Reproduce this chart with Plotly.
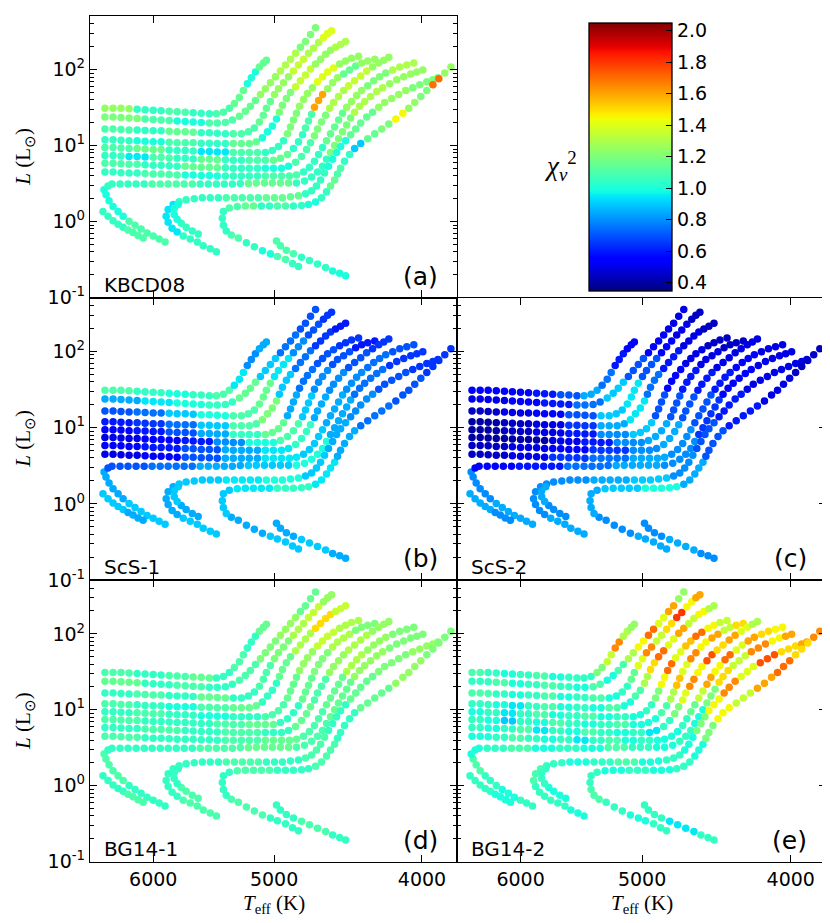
""" Five panels of model tracks in the HR diagram, each coloured by the reduced
    chi^2 of one line list (KBCD08, ScS-1, ScS-2, BG14-1, BG14-2). """
import numpy as np
import plotly.graph_objects as go
from plotly.subplots import make_subplots

# %%
# Track positions: log10(Teff / K) and log10(L / Lsun),
# listed from the start of each track to its tip on the giant branch
t01_logt = [3.8098, 3.8045, 3.7993, 3.7940, 3.7887, 3.7835, 3.7782, 3.7730, 3.7677, 3.7625, 3.7572, 3.7520, 3.7467, 3.7414,
            3.7368, 3.7322, 3.7283, 3.7250, 3.7217, 3.7191, 3.7165, 3.7139, 3.7112, 3.7086, 3.7060, 3.7040]
t01_logl = [1.492, 1.492, 1.492, 1.485, 1.479, 1.472, 1.466, 1.459, 1.453, 1.446, 1.440, 1.433, 1.427, 1.420,
            1.420, 1.440, 1.492, 1.556, 1.634, 1.724, 1.815, 1.893, 1.970, 2.035, 2.087, 2.125]

t02_logt = [3.8098, 3.8045, 3.7993, 3.7940, 3.7887, 3.7835, 3.7782, 3.7730, 3.7677, 3.7625, 3.7572, 3.7520, 3.7467, 3.7414, 3.7362, 3.7309,
            3.7263, 3.7217, 3.7178, 3.7145, 3.7112, 3.7079, 3.7047, 3.7014, 3.6981, 3.6948, 3.6915, 3.6882, 3.6849, 3.6817, 3.6784, 3.6751, 3.6718]
t02_logl = [1.375, 1.375, 1.369, 1.362, 1.356, 1.349, 1.343, 1.336, 1.330, 1.323, 1.317, 1.310, 1.304, 1.297, 1.297, 1.304,
            1.336, 1.388, 1.453, 1.517, 1.595, 1.673, 1.750, 1.828, 1.906, 1.983, 2.061, 2.138, 2.216, 2.294, 2.371, 2.462, 2.552]

t03_logt = [3.8098, 3.8045, 3.7993, 3.7940, 3.7887, 3.7835, 3.7782, 3.7730, 3.7677, 3.7625, 3.7572, 3.7520, 3.7467, 3.7414, 3.7362, 3.7309, 3.7257, 3.7204,
            3.7158, 3.7119, 3.7086, 3.7060, 3.7040, 3.7014, 3.6987, 3.6961, 3.6928, 3.6895, 3.6863, 3.6830, 3.6797, 3.6764, 3.6731, 3.6698, 3.6666, 3.6639, 3.6613]
t03_logl = [1.220, 1.220, 1.213, 1.207, 1.207, 1.200, 1.194, 1.194, 1.188, 1.181, 1.181, 1.175, 1.168, 1.168, 1.162, 1.155, 1.155, 1.155,
            1.181, 1.233, 1.310, 1.401, 1.492, 1.582, 1.673, 1.750, 1.828, 1.906, 1.983, 2.061, 2.138, 2.216, 2.281, 2.358, 2.423, 2.475, 2.514]

t04_logt = [3.8098, 3.8045, 3.7993, 3.7940, 3.7887, 3.7835, 3.7782, 3.7730, 3.7677, 3.7625, 3.7572, 3.7520, 3.7467, 3.7414, 3.7362, 3.7309, 3.7257, 3.7204, 3.7152,
            3.7106, 3.7066, 3.7033, 3.7001, 3.6974, 3.6955, 3.6935, 3.6909, 3.6882, 3.6849, 3.6817, 3.6784, 3.6751, 3.6718, 3.6685, 3.6652, 3.6620, 3.6587, 3.6554, 3.6521]
t04_logl = [1.078, 1.078, 1.071, 1.065, 1.065, 1.058, 1.052, 1.052, 1.045, 1.039, 1.039, 1.039, 1.032, 1.032, 1.026, 1.026, 1.026, 1.026, 1.026,
            1.052, 1.103, 1.181, 1.259, 1.349, 1.440, 1.530, 1.621, 1.699, 1.776, 1.854, 1.931, 2.009, 2.074, 2.138, 2.203, 2.255, 2.294, 2.332, 2.371]

t05_logt = [3.8098, 3.8045, 3.7993, 3.7940, 3.7887, 3.7835, 3.7782, 3.7730, 3.7677, 3.7625, 3.7572, 3.7520, 3.7467, 3.7414, 3.7362, 3.7309, 3.7257, 3.7204, 3.7152, 3.7099, 3.7047,
            3.7001, 3.6961, 3.6928, 3.6902, 3.6882, 3.6863, 3.6843, 3.6823, 3.6797, 3.6771, 3.6738, 3.6705, 3.6672, 3.6639, 3.6600, 3.6560, 3.6521, 3.6482, 3.6436]
t05_logl = [0.974, 0.974, 0.968, 0.961, 0.961, 0.955, 0.948, 0.948, 0.942, 0.935, 0.935, 0.929, 0.922, 0.922, 0.916, 0.916, 0.909, 0.909, 0.909, 0.909, 0.909,
            0.935, 0.987, 1.065, 1.155, 1.246, 1.336, 1.427, 1.517, 1.608, 1.686, 1.763, 1.841, 1.906, 1.970, 2.022, 2.074, 2.113, 2.151, 2.177]

t06_logt = [3.8098, 3.8045, 3.7993, 3.7940, 3.7887, 3.7835, 3.7782, 3.7730, 3.7677, 3.7625, 3.7572, 3.7520, 3.7467, 3.7414, 3.7362, 3.7309, 3.7257, 3.7204, 3.7152, 3.7099, 3.7047, 3.6994,
            3.6948, 3.6902, 3.6863, 3.6830, 3.6803, 3.6784, 3.6764, 3.6744, 3.6725, 3.6698, 3.6672, 3.6639, 3.6606, 3.6574, 3.6534, 3.6495, 3.6455, 3.6416, 3.6376, 3.6330]
t06_logl = [0.871, 0.871, 0.864, 0.858, 0.858, 0.851, 0.845, 0.845, 0.838, 0.832, 0.832, 0.825, 0.819, 0.819, 0.812, 0.812, 0.806, 0.806, 0.806, 0.806, 0.806, 0.806,
            0.832, 0.883, 0.961, 1.052, 1.142, 1.233, 1.323, 1.414, 1.504, 1.595, 1.673, 1.750, 1.828, 1.893, 1.944, 1.996, 2.048, 2.087, 2.113, 2.138]

t07_logt = [3.8098, 3.8045, 3.7993, 3.7940, 3.7887, 3.7835, 3.7782, 3.7730, 3.7677, 3.7625, 3.7572, 3.7520, 3.7467, 3.7414, 3.7362, 3.7309, 3.7257, 3.7204, 3.7152, 3.7099, 3.7047, 3.6994, 3.6941,
            3.6895, 3.6849, 3.6810, 3.6777, 3.6751, 3.6725, 3.6705, 3.6679, 3.6652, 3.6626, 3.6600, 3.6567, 3.6534, 3.6501, 3.6462, 3.6422, 3.6383, 3.6344, 3.6304, 3.6271, 3.6238]
t07_logl = [0.767, 0.767, 0.761, 0.754, 0.754, 0.748, 0.741, 0.741, 0.735, 0.728, 0.728, 0.722, 0.715, 0.715, 0.709, 0.709, 0.702, 0.702, 0.702, 0.702, 0.702, 0.702, 0.702,
            0.728, 0.780, 0.858, 0.948, 1.039, 1.129, 1.220, 1.310, 1.401, 1.492, 1.569, 1.647, 1.724, 1.789, 1.854, 1.918, 1.983, 2.035, 2.087, 2.125, 2.164]

t08_logt = [3.8098, 3.8045, 3.7993, 3.7940, 3.7887, 3.7835, 3.7782, 3.7730, 3.7677, 3.7625, 3.7572, 3.7520, 3.7467, 3.7414, 3.7362, 3.7309, 3.7257, 3.7204, 3.7152, 3.7099, 3.7047, 3.6994, 3.6941, 3.6889,
            3.6843, 3.6797, 3.6758, 3.6725, 3.6698, 3.6672, 3.6646, 3.6620, 3.6593, 3.6567, 3.6541, 3.6514, 3.6482, 3.6449, 3.6416, 3.6376, 3.6337, 3.6298, 3.6258, 3.6212, 3.6166, 3.6120, 3.6074]
t08_logl = [0.651, 0.651, 0.644, 0.638, 0.638, 0.631, 0.625, 0.625, 0.618, 0.612, 0.612, 0.612, 0.605, 0.605, 0.599, 0.599, 0.599, 0.599, 0.599, 0.599, 0.599, 0.599, 0.599, 0.599,
            0.612, 0.651, 0.715, 0.793, 0.883, 0.974, 1.065, 1.155, 1.246, 1.336, 1.427, 1.504, 1.582, 1.660, 1.724, 1.789, 1.854, 1.906, 1.957, 1.996, 2.035, 2.061, 2.087]

# hooked track on the far left (main sequence arm first)
t09_logt = [3.7704, 3.7743, 3.7782, 3.7822, 3.7861, 3.7901, 3.7940, 3.7979, 3.8012, 3.8045, 3.8071, 3.8091, 3.8104, 3.8078,
            3.8052, 3.7999, 3.7947, 3.7894, 3.7841, 3.7789, 3.7736, 3.7684, 3.7631, 3.7579, 3.7526, 3.7474, 3.7421, 3.7368, 3.7316, 3.7263,
            3.7211, 3.7158, 3.7106, 3.7053, 3.7001, 3.6948, 3.6895, 3.6843,
            3.6790, 3.6744, 3.6705, 3.6672, 3.6646, 3.6620, 3.6593, 3.6567, 3.6541, 3.6514, 3.6488, 3.6462, 3.6429, 3.6396, 3.6357, 3.6317,
            3.6278, 3.6232, 3.6186, 3.6140, 3.6094, 3.6054, 3.6015]
t09_logl = [-0.268, -0.229, -0.190, -0.152, -0.100, -0.048, 0.004, 0.068, 0.133, 0.198, 0.275, 0.353, 0.418, 0.469,
            0.495, 0.495, 0.495, 0.495, 0.495, 0.495, 0.495, 0.495, 0.495, 0.495, 0.495, 0.495, 0.495, 0.495, 0.495, 0.495,
            0.502, 0.502, 0.508, 0.508, 0.508, 0.508, 0.508, 0.508,
            0.534, 0.586, 0.651, 0.728, 0.819, 0.909, 1.000, 1.090, 1.181, 1.272, 1.362, 1.440, 1.517, 1.582, 1.647, 1.711,
            1.763, 1.815, 1.867, 1.906, 1.944, 1.970, 1.996]

t10_logt = [3.7368, 3.7408, 3.7454, 3.7493, 3.7539, 3.7585, 3.7625, 3.7658, 3.7684, 3.7697,
            3.7684, 3.7651, 3.7612, 3.7566, 3.7513, 3.7460, 3.7408, 3.7355, 3.7303, 3.7250, 3.7198, 3.7145, 3.7093, 3.7040, 3.6987, 3.6935,
            3.6882, 3.6830, 3.6784, 3.6744, 3.6712, 3.6685, 3.6659, 3.6633, 3.6606, 3.6580, 3.6554, 3.6521, 3.6488, 3.6455, 3.6422, 3.6383,
            3.6344, 3.6304, 3.6265, 3.6219, 3.6173, 3.6127, 3.6081, 3.6035, 3.5989, 3.5949, 3.5916]
t10_logl = [-0.397, -0.359, -0.320, -0.268, -0.229, -0.190, -0.139, -0.087, -0.009, 0.068,
            0.159, 0.224, 0.262, 0.288, 0.301, 0.314, 0.314, 0.314, 0.314, 0.314, 0.314, 0.314, 0.314, 0.314, 0.314, 0.314,
            0.327, 0.340, 0.366, 0.405, 0.469, 0.547, 0.638, 0.728, 0.819, 0.909, 0.987, 1.065, 1.142, 1.220, 1.297, 1.375,
            1.440, 1.504, 1.569, 1.621, 1.673, 1.724, 1.763, 1.802, 1.841, 1.867, 1.893]

t11_logt = [3.6830, 3.6869, 3.6915, 3.6968, 3.7014, 3.7066, 3.7119, 3.7171, 3.7224, 3.7270, 3.7303, 3.7322, 3.7329,
            3.7322, 3.7283, 3.7231, 3.7178, 3.7125, 3.7073, 3.7020, 3.6968, 3.6915, 3.6863,
            3.6810, 3.6764, 3.6718, 3.6679, 3.6646, 3.6620, 3.6593, 3.6574, 3.6554, 3.6528,
            3.6495, 3.6462, 3.6422, 3.6376, 3.6330, 3.6284, 3.6238, 3.6192, 3.6146, 3.6107,
            3.6068, 3.6028, 3.5989, 3.5949, 3.5910, 3.5871, 3.5831]
t11_logl = [-0.592, -0.553, -0.501, -0.462, -0.424, -0.385, -0.333, -0.281, -0.216, -0.177, -0.126, -0.048, 0.042,
            0.133, 0.179, 0.198, 0.204, 0.204, 0.204, 0.204, 0.204, 0.204, 0.204,
            0.211, 0.224, 0.256, 0.314, 0.392, 0.469, 0.547, 0.625, 0.702, 0.793,
            0.883, 0.961, 1.026, 1.090, 1.155, 1.220, 1.285, 1.349, 1.427, 1.492,
            1.569, 1.647, 1.724, 1.802, 1.880, 1.957, 2.035]

# short lower-main-sequence pieces
t12_logt = [3.7487, 3.7526, 3.7566, 3.7598, 3.7625, 3.7644, 3.7644, 3.7618]
t12_logl = [-0.165, -0.126, -0.074, -0.022, 0.030, 0.094, 0.172, 0.224]

t13_logt = [3.8111, 3.8078, 3.8045, 3.8012, 3.7979, 3.7947, 3.7914, 3.7881, 3.7848]
t13_logl = [0.133, 0.068, 0.010, -0.035, -0.074, -0.113, -0.145, -0.184, -0.216]

t14_logt = [3.6974, 3.6948, 3.6909, 3.6863, 3.6810, 3.6758, 3.6705, 3.6652, 3.6606, 3.6560, 3.6521]
t14_logl = [-0.255, -0.320, -0.378, -0.424, -0.469, -0.514, -0.559, -0.604, -0.650, -0.682, -0.714]

TRACKS = [(t01_logt, t01_logl), (t02_logt, t02_logl), (t03_logt, t03_logl), (t04_logt, t04_logl),
          (t05_logt, t05_logl), (t06_logt, t06_logl), (t07_logt, t07_logl), (t08_logt, t08_logl),
          (t09_logt, t09_logl), (t10_logt, t10_logl), (t11_logt, t11_logl), (t12_logt, t12_logl),
          (t13_logt, t13_logl), (t14_logt, t14_logl)]

# %%
# Reduced chi^2 per track, as runs along the track (start -> tip)
chi_kbcd08 = [
    [1.25, 1.05, 1.1, 1.05, 1.1, 1.15, 1.0, 1.15],
    [1.2, 1.1, 1.0, 1.1, 1.15, 1.25, 1.3, 1.2],
    [1.1, 1.05, 1.15, 1.05, 1.1, 1.15, 1.25, 1.35, 1.3, 1.4],
    [1.05, 1.0, 1.1, 1.05, 1.15, 1.0, 1.2, 1.35, 1.25, 1.3],
    [1.1, 1.15, 1.05, 0.95, 1.1, 1.05, 1.2, 1.25, 1.4, 1.25],
    [1.05, 0.95, 1.1, 1.05, 1.15, 1.05, 1.1, 1.15, 1.05, 1.1, 1.6, 1.25, 1.15, 1.25],
    [1.1, 1.05, 1.15, 1.05, 1.0, 1.1, 1.2, 1.3, 1.35, 1.25],
    [1.05, 1.1, 1.0, 1.05, 1.1, 1.05, 1.15, 1.25, 1.2, 1.3],
    [1.1, 1.0, 1.05, 1.1, 1.05, 1.15, 1.05, 1.2, 1.3, 1.25],
    [1.05, 0.95, 1.05, 1.1, 1.15, 1.05, 1.0, 1.15, 1.25, 1.2],
    [1.05, 1.1, 1.0, 1.05, 1.1, 1.05, 1.05, 1.1, 1.15, 1.05, 1.1, 1.05, 1.0,
     1.05, 1.15, 1.1, 1.05, 0.9, 1.15, 1.2, 1.45, 1.25, 1.2, 1.7, 1.25],
    [1.05, 1.0],
    [1.05, 1.1],
    [1.1, 1.05, 1.0],
]
chi_scs1 = [
    [1.1, 1.05, 1.0, 1.05, 1.1, 0.95, 0.8, 0.85],
    [0.85, 0.95, 1.0, 1.05, 1.15, 0.9, 0.75, 0.7],
    [0.7, 0.75, 0.9, 1.0, 1.1, 1.15, 0.95, 0.8, 0.7, 0.65],
    [0.6, 0.65, 0.75, 0.9, 1.1, 1.2, 0.9, 0.75, 0.65, 0.6],
    [0.55, 0.6, 0.7, 0.85, 1.05, 1.15, 0.85, 0.75, 0.7, 0.65],
    [0.5, 0.55, 0.6, 0.8, 1.0, 1.1, 0.9, 0.8, 0.7, 0.6],
    [0.55, 0.6, 0.7, 0.85, 0.95, 1.05, 0.85, 0.8, 0.7, 0.65],
    [0.5, 0.55, 0.7, 0.85, 0.95, 0.9, 0.85, 0.8, 0.75, 0.7],
    [0.9, 0.85, 0.7, 0.75, 0.85, 0.9, 1.0, 0.85, 0.75, 0.65],
    [0.9, 0.85, 0.9, 0.95, 1.0, 0.9, 0.85, 0.8, 0.7, 0.65],
    [0.9, 0.85, 0.9, 0.95, 1.05, 0.95, 0.85, 0.75, 0.7, 0.65],
    [0.85, 0.9],
    [0.9, 0.85],
    [0.85, 0.9, 0.85],
]
chi_scs2 = [
    [0.55, 0.55, 0.6, 0.7, 0.85, 0.75, 0.6, 0.55],
    [0.5, 0.55, 0.6, 0.75, 0.9, 0.7, 0.55, 0.5],
    [0.45, 0.5, 0.55, 0.7, 0.9, 0.95, 0.7, 0.55, 0.5, 0.45],
    [0.4, 0.45, 0.5, 0.65, 0.85, 0.95, 0.75, 0.6, 0.5, 0.45],
    [0.4, 0.45, 0.5, 0.6, 0.8, 0.9, 0.7, 0.55, 0.5, 0.45],
    [0.4, 0.4, 0.5, 0.6, 0.8, 0.85, 0.7, 0.6, 0.5, 0.45],
    [0.45, 0.5, 0.55, 0.65, 0.8, 0.85, 0.7, 0.6, 0.5, 0.5],
    [0.45, 0.5, 0.65, 0.75, 0.85, 0.8, 0.7, 0.6, 0.55, 0.5],
    [0.85, 0.8, 0.55, 0.6, 0.75, 0.85, 0.8, 0.65, 0.55, 0.5],
    [0.85, 0.8, 0.8, 0.85, 0.9, 0.8, 0.7, 0.6, 0.5, 0.5],
    [0.85, 0.8, 0.85, 0.9, 1.0, 0.85, 0.7, 0.6, 0.5, 0.45],
    [0.8, 0.85],
    [0.85, 0.8],
    [0.8, 0.85, 0.8],
]
chi_bg14_1 = [
    [1.1, 1.05, 1.1, 1.15, 1.05, 1.1, 1.05, 1.15],
    [1.15, 1.05, 1.1, 1.05, 1.1, 1.2, 1.25, 1.15],
    [1.05, 1.1, 1.05, 1.15, 1.05, 1.1, 1.2, 1.3, 1.35, 1.25],
    [1.1, 1.05, 1.0, 1.1, 1.15, 1.05, 1.15, 1.3, 1.5, 1.35],
    [1.05, 1.1, 1.05, 1.0, 1.05, 1.1, 1.15, 1.25, 1.35, 1.3],
    [1.1, 1.05, 1.05, 1.1, 1.15, 1.05, 1.15, 1.2, 1.3, 1.2],
    [1.05, 1.1, 1.05, 1.1, 1.05, 1.15, 1.1, 1.25, 1.3, 1.25],
    [1.1, 1.05, 1.05, 1.1, 1.15, 1.1, 1.15, 1.3, 1.25, 1.2],
    [1.05, 1.1, 1.05, 1.05, 1.1, 1.15, 1.1, 1.15, 1.25, 1.2],
    [1.1, 1.05, 1.05, 1.1, 1.05, 1.1, 1.05, 1.15, 1.2, 1.25],
    [1.05, 1.1, 1.05, 1.1, 1.05, 1.1, 1.05, 1.15, 1.25, 1.2],
    [1.1, 1.05],
    [1.05, 1.1],
    [1.05, 1.1, 1.05],
]
chi_bg14_2 = [
    [1.1, 1.05, 1.0, 1.05, 1.1, 1.0, 1.05, 1.05, 1.2, 1.35, 1.65, 1.3, 1.25],
    [1.05, 1.1, 1.0, 1.05, 1.1, 1.05, 1.0, 1.1, 1.0, 1.1, 1.3, 1.45, 1.7, 1.4, 1.6, 1.25],
    [1.1, 1.05, 1.0, 1.05, 1.1, 1.0, 1.05, 1.1, 1.0, 1.05, 1.15, 1.4, 1.65, 1.35, 1.5, 1.8, 1.45, 1.6],
    [1.05, 1.0, 0.95, 1.05, 1.1, 1.0, 1.05, 1.0, 1.1, 1.0, 1.1, 1.3, 1.5, 1.7, 1.4, 1.6, 1.35, 1.45, 1.3],
    [1.0, 1.05, 0.95, 1.05, 1.1, 1.0, 1.05, 1.1, 1.0, 1.05, 1.0, 1.05, 1.2, 1.45, 1.7, 1.4, 1.55, 1.7, 1.45, 1.35],
    [1.05, 1.0, 0.9, 1.05, 1.0, 1.1, 1.05, 1.0, 1.05, 1.1, 1.0, 1.0, 1.1, 1.3, 1.55, 1.4, 1.65, 1.45, 1.6, 1.35, 1.5],
    [1.05, 1.0, 1.05, 1.1, 0.95, 1.05, 1.0, 1.1, 1.05, 1.0, 1.05, 0.95, 1.05, 1.2, 1.4, 1.65, 1.45, 1.75, 1.5, 1.6, 1.4, 1.3],
    [1.0, 1.05, 1.1, 1.05, 1.0, 1.05, 0.95, 1.05, 1.1, 1.0, 1.05, 1.0, 1.0, 1.05, 1.15, 1.35, 1.6, 1.45, 1.7, 1.4, 1.6, 1.5, 1.45],
    [1.05, 1.0, 1.05, 1.1, 1.0, 1.05, 1.1, 1.0, 1.05, 1.0, 1.1, 1.05, 1.0, 1.05, 1.0, 1.2, 1.5, 1.35, 1.65, 1.45, 1.6],
    [1.0, 1.05, 1.05, 1.1, 1.05, 1.0, 1.05, 1.1, 1.0, 1.05, 1.0, 1.2, 1.45, 1.65, 1.4, 1.75, 1.5, 1.6],
    [1.05, 1.0, 1.05, 1.1, 1.05, 1.0, 1.05, 1.0, 1.05, 1.0, 1.2, 1.45, 1.35, 1.6, 1.7, 1.5, 1.65],
    [1.0, 1.05],
    [1.05, 1.0],
    [1.05, 0.95, 1.05],
]

# name, tag, chi values, subplot row, subplot col
PANELS = [("KBCD08", "(a)", chi_kbcd08, 1, 1),
          ("ScS-1", "(b)", chi_scs1, 2, 1),
          ("ScS-2", "(c)", chi_scs2, 2, 2),
          ("BG14-1", "(d)", chi_bg14_1, 3, 1),
          ("BG14-2", "(e)", chi_bg14_2, 3, 2)]

TEFF_TICKS = [6000, 5000, 4000]
LUM_TICKS = [0.1, 1, 10, 100]
LUM_TICK_TEXT = ["10<sup>-1</sup>", "10<sup>0</sup>", "10<sup>1</sup>", "10<sup>2</sup>"]
CHI_TICKS = [0.4, 0.6, 0.8, 1.0, 1.2, 1.4, 1.6, 1.8, 2.0]


# %%
# Helpers
def _jet():
    """ matplotlib's jet as a plotly colorscale """
    stops = [0, 0.11, 0.125, 0.34, 0.35, 0.375, 0.64, 0.65, 0.66, 0.89, 0.91, 1]
    r = np.interp(stops, [0, 0.35, 0.66, 0.89, 1], [0, 0, 1, 1, 0.5])
    g = np.interp(stops, [0, 0.125, 0.375, 0.64, 0.91, 1], [0, 0, 1, 1, 0, 0])
    b = np.interp(stops, [0, 0.11, 0.34, 0.65, 1], [0.5, 1, 1, 0, 0])
    return [[s, f"rgb({int(round(255 * rr))},{int(round(255 * gg))},{int(round(255 * bb))})"]
            for s, rr, gg, bb in zip(stops, r, g, b)]


def _track_chi(n_points, runs):
    """ spread the runs of chi^2 values over the points of a track """
    out = np.empty(n_points)
    for val, idx in zip(runs, np.array_split(np.arange(n_points), len(runs))):
        out[idx] = val
    return out


# %%
# Figure
W, H = 830, 923
LEFT = [82 / W, 449 / W]
RIGHT = [449 / W, 818 / W]
ROWS = {1: [1 - 293 / H, 1 - 8 / H], 2: [1 - 579 / H, 1 - 293 / H], 3: [1 - 864 / H, 1 - 579 / H]}
AXIS_ID = {(1, 1): "", (2, 1): "2", (2, 2): "3", (3, 1): "4", (3, 2): "5"}

fig = make_subplots(rows=3, cols=2, specs=[[{}, None], [{}, {}], [{}, {}]],
                    horizontal_spacing=0, vertical_spacing=0)

for tl, ll in TRACKS:
    assert len(tl) == len(ll), (len(tl), len(ll))
all_logt = np.concatenate([np.array(t[0]) for t in TRACKS])
all_logl = np.concatenate([np.array(t[1]) for t in TRACKS])

minor_lum = [k * 10.0 ** e for e in (-1, 0, 1, 2) for k in range(2, 10)]
font = "DejaVu Sans"

for name, tag, chi, row, col in PANELS:
    colours = np.concatenate([_track_chi(len(tl), runs) for (tl, _), runs in zip(TRACKS, chi)])
    fig.add_trace(go.Scatter(x=10 ** all_logt, y=10 ** all_logl, mode="markers",
                             marker=dict(size=7.5, color=colours, coloraxis="coloraxis", line=dict(width=0)),
                             hoverinfo="skip", showlegend=False), row, col)

    fig.update_xaxes(type="log", range=[3.8196, 3.5791], domain=LEFT if col == 1 else RIGHT,
                     tickvals=TEFF_TICKS, ticktext=[str(v) for v in TEFF_TICKS],
                     showticklabels=(row == 3), ticks="inside", ticklen=7, tickwidth=1, tickcolor="black",
                     showline=True, linecolor="black", linewidth=1.3, mirror="ticks",
                     showgrid=False, zeroline=False, tickfont=dict(family=font, size=19, color="black"),
                     row=row, col=col)
    fig.update_yaxes(type="log", range=[-1.0005, 2.708], domain=ROWS[row],
                     tickvals=LUM_TICKS, ticktext=LUM_TICK_TEXT,
                     showticklabels=(col == 1), ticks="inside", ticklen=7, tickwidth=1, tickcolor="black",
                     minor=dict(tickmode="array", tickvals=minor_lum, ticks="inside", ticklen=4, tickcolor="black"),
                     showline=True, linecolor="black", linewidth=1.3, mirror="ticks",
                     showgrid=False, zeroline=False, tickfont=dict(family=font, size=19, color="black"),
                     row=row, col=col)

    ax = AXIS_ID[(row, col)]
    fig.add_annotation(text=name, x=0.033, y=0.045, xref=f"x{ax} domain", yref=f"y{ax} domain",
                       xanchor="left", yanchor="middle", showarrow=False,
                       font=dict(family=font, size=20, color="black"))
    fig.add_annotation(text=tag, x=0.953, y=0.075, xref=f"x{ax} domain", yref=f"y{ax} domain",
                       xanchor="right", yanchor="middle", showarrow=False,
                       font=dict(family=font, size=25, color="black"))

# Axis titles
for yc in (150.5, 436, 721.5):
    fig.add_annotation(text="<i>L</i> (L<sub>⊙</sub>)", x=16 / W, y=1 - yc / H, xref="paper", yref="paper",
                       textangle=-90, showarrow=False, xanchor="center", yanchor="middle",
                       font=dict(family="Liberation Serif", size=21, color="black"))
for xc in (265.5, 633.5):
    fig.add_annotation(text="<i>T</i><sub>eff</sub> (K)", x=xc / W, y=1 - 907 / H, xref="paper", yref="paper",
                       showarrow=False, xanchor="center", yanchor="middle",
                       font=dict(family="Liberation Serif", size=21, color="black"))
fig.add_annotation(text="<i>χ</i><sub><i>ν</i></sub><sup>2</sup>", x=552 / W, y=1 - 160 / H,
                   xref="paper", yref="paper", showarrow=False, xanchor="center", yanchor="middle",
                   font=dict(family="Liberation Serif", size=27, color="black"))

fig.update_layout(
    width=W, height=H, margin=dict(l=0, r=0, t=0, b=0),
    paper_bgcolor="white", plot_bgcolor="white",
    font=dict(family=font, color="black"),
    coloraxis=dict(colorscale=_jet(), cmin=0.35, cmax=2.05,
                   colorbar=dict(x=581 / W, xanchor="left", y=1 - 150.5 / H, yanchor="middle",
                                 len=271 / H, lenmode="fraction", thickness=83, thicknessmode="pixels",
                                 outlinewidth=1.3, outlinecolor="black", xpad=0, ypad=0,
                                 tickvals=CHI_TICKS, ticktext=[f"{v:.1f}" for v in CHI_TICKS],
                                 ticks="inside", ticklen=6, tickwidth=1, tickcolor="black",
                                 tickfont=dict(family=font, size=19, color="black"))),
)

fig.write_html("out.html")
